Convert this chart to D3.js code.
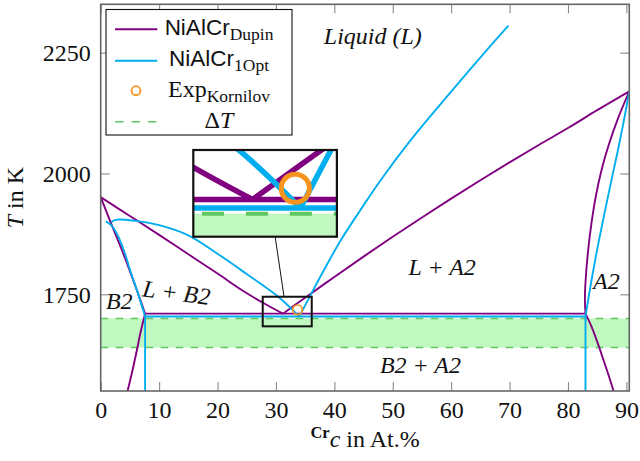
<!DOCTYPE html>
<html><head><meta charset="utf-8">
<script src="https://cdn.jsdelivr.net/npm/d3@7"></script>
<style>body{margin:0;background:#fff} svg{display:block}</style>
</head><body><svg id="c" width="640" height="461"></svg>
<script>
// ---------- data ----------
const xTicks = [0,10,20,30,40,50,60,70,80,90];
const yTicks = [1750,2000,2250];

// NiAlCr Dupin (purple)
const dupinLiquidusLeft  = [[0,1951],[5,1912],[10,1873],[15,1833],[20,1793],[24,1760],[27.85,1732],[31.2,1710]];
const dupinSolidusB2     = [[0,1951],[2,1890],[4,1830],[6,1765],[7.6,1710]];
const dupinSolvusB2      = [[7.6,1710],[6.8,1670],[6.1,1629],[5.3,1585],[4.6,1550]];
const dupinEutectic      = [[7.6,1710],[83,1710]];
const dupinLiquidusRight = [[31.2,1710],[35,1743],[40,1786],[45,1828],[50,1869],[55,1909],[60,1948],[65,1986],[70,2023],[75,2059],[80,2094],[85,2131],[90.5,2170]];
const dupinSolidusA2     = [[90.5,2170],[88.6,2115],[87.0,2060],[85.8,2010],[84.8,1955],[84.0,1895],[83.4,1835],[83.0,1775],[82.9,1740],[83,1710]];
const dupinSolvusA2      = [[83,1710],[84,1684],[85,1652],[86,1617],[87,1581],[87.8,1550]];

// NiAlCr 1Opt (blue)
const optSolidusB2     = [[0.9,1901],[1.8,1893],[2.7,1877],[4,1840],[5,1801],[6.3,1755],[7.6,1704]];
const optLiquidusLeft  = [[1.8,1899],[2.5,1904],[6,1902],[10,1893],[15,1872],[20,1834],[25,1792],[30.3,1746],[34,1704]];
const optEutectic      = [[7.6,1704],[83,1704]];
const optSolvusB2      = [[7.6,1704],[7.6,1550]];
const optLiquidusRight = [[34,1704],[36,1750],[38,1795],[41,1860],[44.5,1925],[47.8,1984],[53,2068],[59.2,2158],[64.5,2233],[69.8,2306]];
const optSolidusA2     = [[90.5,2170],[89.5,2105],[88.5,2045],[87.6,1995],[86.5,1932],[85.2,1855],[84,1777],[83,1704]];
const optSolvusA2      = [[83,1704],[83,1550]];

// Experiment (Kornilov)
const expKornilov = [[33.7,1718]];
// Delta T band
const deltaTBand = [1640,1700];

const regionLabels = [
  {text:"Liquid (L)", x:38.2, t:2267},
  {text:"L + A2", x:52.7, t:1790},
  {text:"A2", x:84.3, t:1762},
  {text:"B2 + A2", x:47.8, t:1587},
  {text:"B2", x:0.9, t:1719}
];

// ---------- layout ----------
const PURPLE="#800080", BLUE="#00aeef", ORANGE="#f7941d", GREEN="#5fc85f", GFILL="#c0f8c0";
const SERIF="'Liberation Serif','Times New Roman',serif", SANS="'Liberation Sans',Arial,sans-serif";
const x = d3.scaleLinear().domain([0,90.5]).range([100.7,629.3]);
const y = d3.scaleLinear().domain([1550,2350]).range([391,4.3]);
const svg = d3.select("#c");
const lineX = d3.line().x(d=>x(d[0])).y(d=>y(d[1])).curve(d3.curveCatmullRom.alpha(0.5));

svg.append("defs").append("clipPath").attr("id","plotclip")
  .append("rect").attr("x",x(0)).attr("y",y(2350)).attr("width",x(90.5)-x(0)).attr("height",y(1550)-y(2350));

function drawContent(g){
  g.append("rect").attr("x",x(0)).attr("width",x(90.5)-x(0))
    .attr("y",y(deltaTBand[1])).attr("height",y(deltaTBand[0])-y(deltaTBand[1]))
    .attr("fill",GFILL);
  deltaTBand.forEach(t=>{
    g.append("line").attr("x1",x(0)).attr("x2",x(90.5)).attr("y1",y(t)).attr("y2",y(t))
      .attr("stroke",GREEN).attr("stroke-width",1.3).attr("stroke-dasharray","7.5,7.5");
  });
  const dupin=[dupinLiquidusLeft,dupinSolidusB2,dupinSolvusB2,dupinEutectic,dupinLiquidusRight,dupinSolidusA2,dupinSolvusA2];
  const opt=[optSolidusB2,optLiquidusLeft,optEutectic,optSolvusB2,optLiquidusRight,optSolidusA2,optSolvusA2];
  dupin.forEach(d=>g.append("path").attr("d",lineX(d)).attr("fill","none").attr("stroke",PURPLE).attr("stroke-width",1.9));
  opt.forEach(d=>g.append("path").attr("d",lineX(d)).attr("fill","none").attr("stroke",BLUE).attr("stroke-width",1.9));
  g.selectAll(null).data(expKornilov).enter().append("circle")
    .attr("cx",d=>x(d[0])).attr("cy",d=>y(d[1])).attr("r",4.8)
    .attr("fill","none").attr("stroke",ORANGE).attr("stroke-width",1.7);
}

const main = svg.append("g").attr("clip-path","url(#plotclip)");
drawContent(main);

// axes (ticks inward, mirrored)
const TK=9;
const axB = svg.append("g").attr("transform",`translate(0,${y(1550)})`)
  .call(d3.axisBottom(x).tickValues(xTicks).tickSize(-TK).tickPadding(10).tickFormat(d3.format("d")));
const axT = svg.append("g").attr("transform",`translate(0,${y(2350)})`)
  .call(d3.axisTop(x).tickValues(xTicks).tickSize(-TK).tickFormat(""));
const axL = svg.append("g").attr("transform",`translate(${x(0)},0)`)
  .call(d3.axisLeft(y).tickValues(yTicks).tickSize(-TK).tickPadding(10).tickFormat(d3.format("d")));
const axR = svg.append("g").attr("transform",`translate(${x(90.5)},0)`)
  .call(d3.axisRight(y).tickValues(yTicks).tickSize(-TK).tickFormat(""));
[axB,axT,axL,axR].forEach(a=>{
  a.select(".domain").remove();
  a.selectAll(".tick line").attr("stroke","#888").attr("stroke-width",1.1);
  a.selectAll(".tick text").attr("font-family",SERIF).attr("font-size",24).attr("fill","#111");
});
svg.append("rect").attr("x",x(0)).attr("y",y(2350)).attr("width",x(90.5)-x(0)).attr("height",y(1550)-y(2350))
  .attr("fill","none").attr("stroke","#666").attr("stroke-width",1.6);

// region labels
svg.selectAll(null).data(regionLabels).enter().append("text")
  .attr("x",d=>x(d.x)).attr("y",d=>y(d.t)).text(d=>d.text)
  .attr("font-family",SERIF).attr("font-style","italic").attr("font-size",24).attr("fill","#111");
svg.append("text").attr("text-anchor","middle").attr("x",0).attr("y",0)
  .attr("transform",`translate(${x(12.8)},${y(1737)}) rotate(7.5)`)
  .attr("font-family",SERIF).attr("font-style","italic").attr("font-size",24).attr("fill","#111")
  .text("L + B2");

// ---------- inset ----------
const src = {x0:27.74, x1:36.13, tTop:1745};
const insetPos = {left:193.3, top:150};
const k = 2.93;
const sx0=x(src.x0), sy0=y(src.tTop), sw=x(src.x1)-x(src.x0);
const iw=sw*k, ih=86.7, sh=ih/k;
svg.append("defs").append("clipPath").attr("id","insetclip")
  .append("rect").attr("x",sx0).attr("y",sy0).attr("width",sw).attr("height",sh);
svg.append("line").attr("x1",insetPos.left+0.57*iw).attr("y1",insetPos.top+ih)
  .attr("x2",sx0+0.435*sw).attr("y2",sy0).attr("stroke","#111").attr("stroke-width",1);
svg.append("rect").attr("x",sx0).attr("y",sy0).attr("width",sw).attr("height",sh)
  .attr("fill","none").attr("stroke","#111").attr("stroke-width",2);
svg.append("rect").attr("x",insetPos.left).attr("y",insetPos.top).attr("width",iw).attr("height",ih).attr("fill","#fff");
const ig = svg.append("g").attr("transform",`translate(${insetPos.left},${insetPos.top}) scale(${k}) translate(${-sx0},${-sy0})`)
  .append("g").attr("clip-path","url(#insetclip)");
drawContent(ig);
svg.append("rect").attr("x",insetPos.left).attr("y",insetPos.top).attr("width",iw).attr("height",ih)
  .attr("fill","none").attr("stroke","#111").attr("stroke-width",2.2);

// ---------- legend ----------
const lg = svg.append("g");
lg.append("rect").attr("x",106).attr("y",9.5).attr("width",186).attr("height",125.5)
  .attr("fill","#fff").attr("stroke","#111").attr("stroke-width",1.1);
const legendItems = [
  {main:"NiAlCr", sub:"Dupin", font:SANS, size:22.5, base:35},
  {main:"NiAlCr", sub:"1Opt", font:SANS, size:22.5, base:66},
  {main:"Exp", sub:"Kornilov", font:SERIF, size:24, base:96.7},
];
legendItems.forEach(d=>{
  const t = lg.append("text").attr("x",219).attr("y",d.base).attr("text-anchor","middle").attr("fill","#111");
  t.append("tspan").attr("font-family",d.font).attr("font-size",d.size).text(d.main);
  t.append("tspan").attr("font-family",SERIF).attr("font-size",17.5).attr("dy",5).text(d.sub);
});
const dt = lg.append("text").attr("x",219).attr("y",128.3).attr("text-anchor","middle")
  .attr("font-family",SERIF).attr("font-size",24).attr("fill","#111");
dt.append("tspan").text("Δ");
dt.append("tspan").attr("font-style","italic").text("T");
lg.append("line").attr("x1",115).attr("x2",157.3).attr("y1",29.3).attr("y2",29.3).attr("stroke",PURPLE).attr("stroke-width",1.9);
lg.append("line").attr("x1",115).attr("x2",157.3).attr("y1",60.7).attr("y2",60.7).attr("stroke",BLUE).attr("stroke-width",1.9);
lg.append("circle").attr("cx",136).attr("cy",90.7).attr("r",4.5).attr("fill","none").attr("stroke",ORANGE).attr("stroke-width",1.8);
lg.append("line").attr("x1",115).attr("x2",157.3).attr("y1",121.7).attr("y2",121.7).attr("stroke",GREEN).attr("stroke-width",1.5).attr("stroke-dasharray","8.5,8");

// ---------- axis titles ----------
const yl = svg.append("text").attr("transform",`translate(23,${(y(1550)+y(2350))/2}) rotate(-90)`)
  .attr("text-anchor","middle").attr("font-family",SERIF).attr("font-size",24).attr("fill","#111");
yl.append("tspan").attr("font-style","italic").text("T");
yl.append("tspan").text(" in K");
const xl = svg.append("text").attr("x",(x(0)+x(90.5))/2).attr("y",447).attr("text-anchor","middle")
  .attr("font-family",SERIF).attr("font-size",24).attr("fill","#111");
xl.append("tspan").attr("font-size",16.5).attr("font-weight","bold").attr("dy",-9).text("Cr");
xl.append("tspan").attr("font-style","italic").attr("dy",9).text("c");
xl.append("tspan").text(" in At.%");
</script></body></html>
